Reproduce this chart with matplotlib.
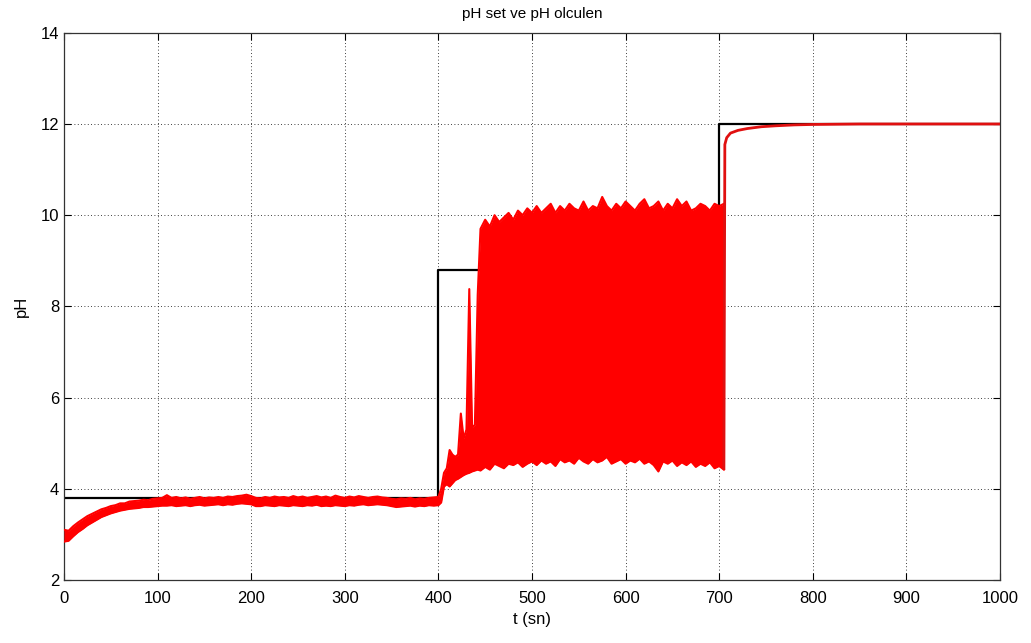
import numpy as np
import matplotlib
matplotlib.use("Agg")
import matplotlib.pyplot as plt

plt.rcParams['font.family'] = ['Liberation Sans', 'DejaVu Sans']

# setpoint (black)
t_set = [0, 400, 400, 700, 700, 1000]
ph_set = [3.8, 3.8, 8.8, 8.8, 12.0, 12.0]

# measured pH, first phase (0-400 s), band edges every 5 s
t1 = np.arange(0, 405, 5)
up1 = [3.10, 3.08, 3.18, 3.26, 3.33, 3.40, 3.45, 3.50, 3.55, 3.58,
       3.62, 3.64, 3.68, 3.68, 3.72, 3.73, 3.74, 3.76, 3.75, 3.78,
       3.79, 3.80, 3.86, 3.80, 3.82, 3.79, 3.81, 3.78, 3.80, 3.82,
       3.79, 3.81, 3.80, 3.82, 3.80, 3.83, 3.82, 3.84, 3.85, 3.87,
       3.84, 3.80, 3.79, 3.82, 3.80, 3.83, 3.81, 3.82, 3.80, 3.84,
       3.81, 3.83, 3.80, 3.82, 3.84, 3.81, 3.83, 3.80, 3.85, 3.82,
       3.80, 3.83, 3.81, 3.84, 3.82, 3.80, 3.82, 3.83, 3.81, 3.80,
       3.78, 3.77, 3.79, 3.78, 3.80, 3.77, 3.79, 3.78, 3.80, 3.81,
       3.82]
lo1 = [2.84, 2.86, 2.96, 3.05, 3.12, 3.20, 3.26, 3.32, 3.38, 3.42,
       3.46, 3.49, 3.52, 3.54, 3.56, 3.57, 3.58, 3.60, 3.60, 3.61,
       3.62, 3.63, 3.63, 3.64, 3.62, 3.63, 3.64, 3.62, 3.64, 3.65,
       3.63, 3.64, 3.65, 3.66, 3.64, 3.66, 3.65, 3.67, 3.68, 3.67,
       3.66, 3.62, 3.62, 3.64, 3.63, 3.62, 3.64, 3.63, 3.62, 3.64,
       3.63, 3.62, 3.64, 3.63, 3.65, 3.62, 3.63, 3.62, 3.64, 3.63,
       3.62, 3.64, 3.63, 3.65, 3.66, 3.64, 3.65, 3.66, 3.65, 3.64,
       3.62, 3.60, 3.61, 3.62, 3.63, 3.61, 3.63, 3.62, 3.64, 3.63,
       3.64]

# transition after the first step (403-442 s)
t2 = [403, 406, 409, 412, 415, 418, 421, 424, 427, 430, 433, 436, 439, 442]
up2 = [4.00, 4.35, 4.45, 4.85, 4.75, 4.70, 4.75, 5.65, 5.10, 5.30, 8.38, 5.35, 5.40, 8.25]
lo2 = [3.70, 4.05, 4.10, 4.05, 4.12, 4.19, 4.22, 4.26, 4.30, 4.33, 4.35, 4.38, 4.40, 4.42]

# oscillating phase (445-705 s)
t3 = np.arange(445, 710, 5)
up3 = [9.70, 9.90, 9.75, 10.00, 9.85, 9.95, 10.05, 9.90, 10.10, 10.00,
       10.15, 10.05, 10.20, 10.05, 10.15, 10.25, 10.05, 10.20, 10.10, 10.25,
       10.15, 10.10, 10.30, 10.10, 10.20, 10.15, 10.40, 10.20, 10.10, 10.25,
       10.15, 10.30, 10.20, 10.10, 10.25, 10.35, 10.15, 10.20, 10.30, 10.10,
       10.25, 10.15, 10.35, 10.20, 10.30, 10.10, 10.15, 10.25, 10.20, 10.10,
       10.25, 10.20, 10.25]
lo3 = [4.40, 4.48, 4.42, 4.55, 4.50, 4.45, 4.55, 4.52, 4.58, 4.48,
       4.55, 4.60, 4.52, 4.62, 4.55, 4.60, 4.50, 4.65, 4.58, 4.62,
       4.55, 4.68, 4.60, 4.55, 4.65, 4.58, 4.62, 4.70, 4.55, 4.60,
       4.65, 4.55, 4.62, 4.58, 4.66, 4.55, 4.60, 4.52, 4.38, 4.60,
       4.55, 4.62, 4.50, 4.58, 4.52, 4.60, 4.48, 4.55, 4.50, 4.58,
       4.45, 4.50, 4.42]

# final phase (705-1000 s)
t4 = [705, 706, 708, 712, 720, 730, 745, 760, 780, 800, 850, 900, 1000]
ph4 = [4.45, 11.55, 11.70, 11.80, 11.86, 11.90, 11.94, 11.96, 11.98, 11.99, 12.0, 12.0, 12.0]

t_band = np.concatenate([t1, t2, t3])
up_band = np.concatenate([up1, up2, up3])
lo_band = np.concatenate([lo1, lo2, lo3])

fig = plt.figure(figsize=(10.31, 6.43), dpi=100)
ax = fig.add_axes([0.062, 0.098, 0.908, 0.851])

red = '#ff0000'
ax.plot(t_set, ph_set, color='black', lw=1.6, zorder=2)
ax.fill_between(t_band, lo_band, up_band, color=red, lw=0, zorder=3)
ax.plot(t_band, up_band, color=red, lw=1.5, zorder=3)
ax.plot(t_band, lo_band, color=red, lw=1.5, zorder=3)
ax.plot(t4, ph4, color='#e01010', lw=2, zorder=3)

ax.set_xlim(0, 1000)
ax.set_ylim(2, 14)
ax.set_xticks(np.arange(0, 1001, 100))
ax.set_yticks(np.arange(2, 15, 2))
ax.grid(True, color='black', ls=(0, (1, 3)), lw=0.6)
ax.tick_params(direction='in', top=True, right=True, labelsize=12, length=5, width=0.8)
ax.tick_params(axis='x', pad=8)
for s in ax.spines.values():
    s.set_color('#333333')
    s.set_linewidth(0.9)

ax.set_xlabel('t (sn)', fontsize=12, labelpad=4)
ax.set_ylabel('pH', fontsize=12, labelpad=8)
ax.set_title('pH set ve pH olculen', fontsize=11, pad=11)

fig.savefig('out.png', dpi=100)
